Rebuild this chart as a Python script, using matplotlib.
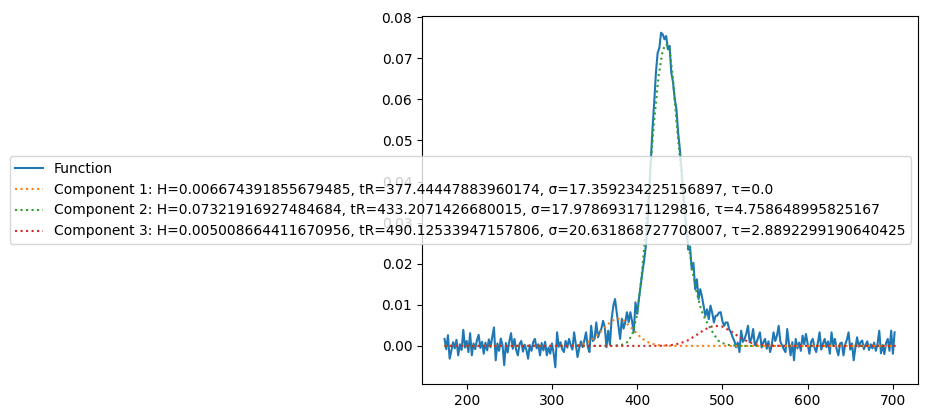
import matplotlib
matplotlib.use("Agg")
import matplotlib.pyplot as plt
import numpy as np

# Sinal medido (passo de 2 unidades, de 174 a 702)
x_start = 174
x_step = 2
func_y = [
    0.0017, -0.0008, 0.0026, -0.0031, -0.0012, 0.0009, -0.0006, 0.0015, -0.0023, 0.0004,   # 174-192
    -0.0010, 0.0039, -0.0004, 0.0012, -0.0015, 0.0031, -0.0023, 0.0006, -0.0008, 0.0014,   # 194-212
    0.0027, -0.0005, 0.0010, -0.0019, 0.0008, -0.0011, 0.0016, -0.0003, 0.0022, 0.0045,    # 214-232
    -0.0035, 0.0006, -0.0012, 0.0018, 0.0002, -0.0047, 0.0007, -0.0016, 0.0011, 0.0031,    # 234-252
    -0.0007, 0.0017, -0.0010, -0.0023, 0.0005, 0.0012, -0.0014, 0.0003, -0.0009, -0.0031,  # 254-272
    0.0002, -0.0012, 0.0009, 0.0017, -0.0006, 0.0004, -0.0023, 0.0007, -0.0011, 0.0010,    # 274-292
    -0.0023, -0.0004, -0.0019, 0.0006, -0.0018, -0.0052, 0.0033, -0.0002, 0.0009, -0.0008, # 294-312
    -0.0015, 0.0012, -0.0004, 0.0017, 0.0002, -0.0009, 0.0033, 0.0004, -0.0027, -0.0006,   # 314-332
    0.0011, -0.0003, 0.0013, 0.0033, -0.0002, -0.0015, 0.0049, 0.0012, 0.0017, 0.0057,     # 334-352
    0.0021, 0.0033, 0.0042, 0.0061, 0.0045, -0.0003, 0.0037, 0.0003, 0.0066, 0.0097,       # 354-372
    0.0114, 0.0082, 0.0050, 0.0017, 0.0066, 0.0042, 0.0058, 0.0082, 0.0058, 0.0082,        # 374-392
    0.0060, 0.0033, 0.0106, 0.0078, 0.0114, 0.0146, 0.0178, 0.0206, 0.0240, 0.0290,        # 394-412
    0.0370, 0.0450, 0.0530, 0.0593, 0.0665, 0.0713, 0.0725, 0.0762, 0.0758, 0.0746,        # 414-432
    0.0754, 0.0722, 0.0730, 0.0665, 0.0642, 0.0602, 0.0577, 0.0520, 0.0480, 0.0430,        # 434-452
    0.0370, 0.0320, 0.0280, 0.0234, 0.0242, 0.0186, 0.0202, 0.0138, 0.0162, 0.0114,        # 454-472
    0.0138, 0.0120, 0.0097, 0.0073, 0.0089, 0.0065, 0.0098, 0.0081, 0.0057, 0.0073,        # 474-492
    0.0074, 0.0081, 0.0082, 0.0060, 0.0049, 0.0057, 0.0057, 0.0040, 0.0033, 0.0021,        # 494-512
    0.0012, -0.0003, 0.0008, -0.0015, 0.0037, 0.0010, 0.0017, 0.0030, 0.0049, 0.0009,      # 514-532
    0.0017, 0.0041, 0.0002, 0.0009, 0.0020, 0.0033, -0.0004, 0.0009, 0.0017, -0.0007,      # 534-552
    0.0011, -0.0015, 0.0004, 0.0033, 0.0012, 0.0025, 0.0049, 0.0010, 0.0001, -0.0008,      # 554-572
    -0.0015, 0.0041, 0.0006, -0.0023, 0.0009, -0.0035, 0.0017, -0.0006, 0.0008, -0.0012,   # 574-592
    0.0025, 0.0004, 0.0029, 0.0005, -0.0019, 0.0010, 0.0017, -0.0004, -0.0015, 0.0008,     # 594-612
    0.0033, -0.0009, 0.0006, 0.0017, -0.0003, 0.0011, -0.0019, 0.0033, 0.0002, 0.0017,     # 614-632
    -0.0008, -0.0023, 0.0006, 0.0008, -0.0023, 0.0003, 0.0015, 0.0033, -0.0009, 0.0006,    # 634-652
    -0.0035, -0.0004, 0.0021, -0.0002, 0.0009, 0.0013, -0.0008, 0.0003, 0.0011, -0.0010,   # 654-672
    0.0004, -0.0006, 0.0008, -0.0012, 0.0005, 0.0037, -0.0018, 0.0002, -0.0020, 0.0007,    # 674-692
    0.0017, -0.0012, 0.0037, -0.0019, 0.0033,                                              # 694-702
]
func_x = x_start + x_step * np.arange(len(func_y))
print(len(func_y), func_x[-1])

# Componentes ajustadas
comp1_x = [174, 310, 320, 330, 340, 350, 360, 370, 377.4, 385, 395, 405, 415, 425, 435, 450, 703]
comp1_y = [0.0, 0.0, 0.00003, 0.00016, 0.00065, 0.00191, 0.00403, 0.00609, 0.00667,
           0.00607, 0.00400, 0.00189, 0.00064, 0.00016, 0.00003, 0.0, 0.0]

comp2_x = [174, 370, 380, 385, 390, 395, 400, 405, 410, 415, 420, 425, 430, 434, 438,
           442, 446, 450, 455, 460, 465, 470, 475, 480, 485, 490, 495, 500, 505, 512, 525, 703]
comp2_y = [0.0, 0.0, 0.0002, 0.0004, 0.0012, 0.0033, 0.0078, 0.0165, 0.0280, 0.0420,
           0.0550, 0.0655, 0.0720, 0.0734, 0.0722, 0.0648, 0.0548, 0.0460, 0.0350, 0.0250,
           0.0180, 0.0128, 0.0088, 0.0064, 0.0046, 0.0028, 0.0013, 0.0007, 0.0003, 0.0001, 0.0, 0.0]

comp3_x = [174, 410, 420, 430, 440, 450, 460, 470, 480, 490, 500, 510, 520, 530, 540, 550, 560, 575, 703]
comp3_y = [0.0, 0.0, 0.00001, 0.00005, 0.00020, 0.00059, 0.00141, 0.00270, 0.00408, 0.00491,
           0.00469, 0.00356, 0.00214, 0.00102, 0.00039, 0.00012, 0.00003, 0.0, 0.0]

labels = [
    "Function",
    "Component 1: H=0.006674391855679485, tR=377.44447883960174, σ=17.359234225156897, τ=0.0",
    "Component 2: H=0.07321916927484684, tR=433.2071426680015, σ=17.978693171129816, τ=4.758648995825167",
    "Component 3: H=0.005008664411670956, tR=490.12533947157806, σ=20.631868727708007, τ=2.8892299190640425",
]

fig = plt.figure(figsize=(9.28, 4.18), dpi=100)
ax = fig.add_axes([422 / 928, 34 / 418, 496 / 928, 368 / 418])

ax.plot(func_x, func_y, label=labels[0])
ax.plot(comp1_x, comp1_y, ":", label=labels[1])
ax.plot(comp2_x, comp2_y, ":", label=labels[2])
ax.plot(comp3_x, comp3_y, ":", label=labels[3])

ax.legend(loc="center right")

fig.savefig("out.png", dpi=100)
